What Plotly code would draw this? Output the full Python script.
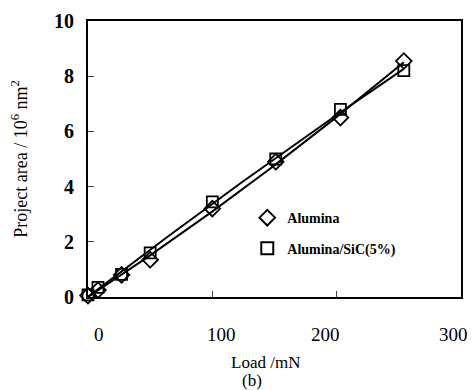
import numpy as np
import plotly.graph_objects as go

load = [0, 8, 27, 50, 100, 151, 203, 254]
alumina = [0.05, 0.25, 0.8, 1.35, 3.2, 4.9, 6.5, 8.55]
alumina_sic = [0.08, 0.35, 0.82, 1.6, 3.45, 5.0, 6.8, 8.2]
x_ticks = [0, 100, 200, 300]
x_tick_labels = ["0", "100", "200", "300"]
y_ticks = [0, 2, 4, 6, 8, 10]

serif = "Liberation Serif, Times New Roman, serif"
x_label_shift = [11, 9, -11, -8]

fig = go.Figure()
xs = np.array(load, dtype=float)
xx = np.linspace(xs.min(), xs.max(), 60)
for ys in (alumina, alumina_sic):
    coef = np.polyfit(xs, np.array(ys), 2)
    fig.add_trace(go.Scatter(x=xx, y=np.polyval(coef, xx), mode="lines", showlegend=False,
                             line=dict(color="black", width=2), hoverinfo="skip"))
fig.add_trace(go.Scatter(x=load, y=alumina, mode="markers", name="Alumina",
                         marker=dict(symbol="diamond-open", size=12, color="black",
                                     line=dict(width=1.8, color="black")),
                         cliponaxis=False, legend="legend"))
fig.add_trace(go.Scatter(x=load, y=alumina_sic, mode="markers", name="Alumina/SiC(5%)",
                         marker=dict(symbol="square-open", size=11, color="black",
                                     line=dict(width=1.8, color="black")),
                         cliponaxis=False, legend="legend2"))

leg_font = dict(family=serif, size=14, color="black", weight="bold")
fig.update_layout(
    width=473, height=390,
    margin=dict(l=88, r=10, t=17, b=93),
    plot_bgcolor="white", paper_bgcolor="white",
    font=dict(family=serif, color="black"),
    legend=dict(x=0.427, y=0.286, xanchor="left", yanchor="middle",
                bgcolor="rgba(0,0,0,0)", font=leg_font, itemsizing="constant"),
    legend2=dict(x=0.427, y=0.175, xanchor="left", yanchor="middle",
                 bgcolor="rgba(0,0,0,0)", font=leg_font, itemsizing="constant"),
    xaxis=dict(range=[0, 300], tickvals=x_ticks, ticks="inside", ticklen=6,
               showticklabels=False,
               showline=True, linecolor="black", linewidth=2, mirror=True,
               showgrid=False, zeroline=False),
    yaxis=dict(range=[0, 10], tickvals=y_ticks, ticks="inside", ticklen=6,
               ticklabelstandoff=8,
               showline=True, linecolor="black", linewidth=2, mirror=True,
               showgrid=False, zeroline=False,
               tickfont=dict(family=serif, size=20, color="black", weight="bold"),
               title=dict(text="Project area / 10<sup>6</sup> nm<sup>2</sup>",
                          font=dict(family=serif, size=18), standoff=22)),
)

for xv, lab, sh in zip(x_ticks, x_tick_labels, x_label_shift):
    fig.add_annotation(text=lab, x=xv, xref="x", y=-0.137, yref="paper",
                       xanchor="center", yanchor="middle", showarrow=False, xshift=sh,
                       font=dict(family=serif, size=19, color="black"))

fig.add_annotation(text="Load /mN", xref="paper", yref="paper", x=0.475, y=-0.236,
                   xanchor="center", yanchor="middle", showarrow=False,
                   font=dict(family=serif, size=17, color="black"))
fig.add_annotation(text="(b)", xref="paper", yref="paper", x=0.44, y=-0.304,
                   xanchor="center", yanchor="middle", showarrow=False,
                   font=dict(family=serif, size=17, color="black"))

fig.write_html("out.html")
